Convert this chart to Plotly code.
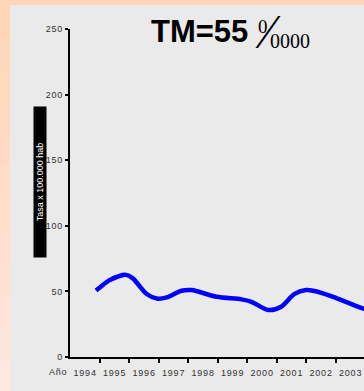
import plotly.graph_objects as go

# ---- data ----
years = [1994.88, 1995.01, 1995.35, 1995.89, 1996.13, 1996.60, 1996.97, 1997.28,
         1997.78, 1998.12, 1998.97, 1999.81, 2000.15, 2000.72, 2001.16, 2001.60,
         2002.00, 2002.24, 2002.92, 2003.42, 2003.93, 2004.30]
rates = [50.7, 53.0, 58.6, 62.6, 59.9, 48.0, 44.4, 45.4,
         50.5, 51.0, 45.9, 43.9, 42.1, 35.8, 38.3, 47.9,
         51.0, 50.5, 45.9, 41.4, 37.0, 34.5]
tick_labels = ["1994", "1995", "1996", "1997", "1998", "1999", "2000", "2001", "2002", "2003"]
y_ticks = [0, 50, 100, 150, 200, 250]
y_tick_text = ["0", "50", "100", "150", "200", "250"]

W, H = 364, 391
L, R, T, B = 70, 0, 29, 34
pw, ph = W - L - R, H - T - B
HS = "\u200a"


def px(x):
    return (x - L) / pw


def py(y):
    return (H - B - y) / ph


fig = go.Figure()
fig.add_trace(go.Scatter(x=years, y=rates, mode="lines",
                         line=dict(color="#0000FF", width=4.5, shape="spline", smoothing=0.8),
                         showlegend=False, hoverinfo="skip"))

shapes = [dict(type="rect", xref="paper", yref="paper", x0=px(10), x1=px(W), y0=py(H), y1=py(5),
               fillcolor="#EAEAEA", line=dict(width=0), layer="below")]
# left gradient strip
n = 12
c0 = (0xFF, 0xD5, 0xB6)
c1 = (0xFF, 0xE6, 0xDE)
for i in range(n):
    f = i / (n - 1)
    c = tuple(round(a + (b - a) * f) for a, b in zip(c0, c1))
    y0 = 5 + (H - 5) * i / n
    y1 = 5 + (H - 5) * (i + 1) / n
    shapes.append(dict(type="rect", xref="paper", yref="paper", x0=px(0), x1=px(10),
                       y0=py(y1), y1=py(y0), fillcolor="rgb(%d,%d,%d)" % c,
                       line=dict(width=0), layer="below"))

annotations = [
    dict(text="<b>TM=55</b>", x=px(199), y=py(31), xref="paper", yref="paper", showarrow=False,
         font=dict(family="Arial, Liberation Sans", size=31, color="black"), xanchor="center", yanchor="middle"),
    dict(text="0", x=px(263), y=py(26), xref="paper", yref="paper", showarrow=False,
         font=dict(family="Liberation Serif, Times New Roman", size=19, color="black"), xanchor="center", yanchor="middle"),
    dict(text="\u2044", x=px(268), y=py(31), xref="paper", yref="paper", showarrow=False,
         font=dict(family="Liberation Serif, Times New Roman", size=48, color="black"), xanchor="center", yanchor="middle"),
    dict(text="0000", x=px(290), y=py(41), xref="paper", yref="paper", showarrow=False,
         font=dict(family="Liberation Serif, Times New Roman", size=20, color="black"), xanchor="center", yanchor="middle"),
    dict(text="A" + HS + "ñ" + HS + "o", x=px(58), y=py(372), xref="paper", yref="paper", showarrow=False,
         font=dict(family="Arial, Liberation Sans", size=9, color="#333333"), xanchor="center", yanchor="middle"),
    dict(text="Tasa x 100.000 hab", x=px(40), y=py(182), xref="paper", yref="paper", showarrow=False,
         textangle=-90, bgcolor="black", width=148, height=10, borderpad=1,
         font=dict(family="Arial, Liberation Sans", size=9, color="white"), xanchor="center", yanchor="middle"),
]

fig.update_layout(
    width=W, height=H,
    margin=dict(l=L, r=R, t=T, b=B, pad=0),
    paper_bgcolor="#FFD6B8",
    plot_bgcolor="rgba(0,0,0,0)",
    shapes=shapes,
    annotations=annotations,
    showlegend=False,
    xaxis=dict(range=[1994, 1994 + pw / 29.5], showgrid=False, zeroline=False,
               showline=True, linecolor="black", linewidth=2,
               tickvals=[1994.5 + i for i in range(len(tick_labels))],
               ticktext=[HS.join(t) for t in tick_labels],
               ticks="", ticklabelstandoff=6,
               tickfont=dict(family="Arial, Liberation Sans", size=9, color="#333333"),
               minor=dict(tickvals=list(range(1995, 2005)), ticks="outside", ticklen=4,
                          tickwidth=2, tickcolor="black", showgrid=False)),
    yaxis=dict(range=[0, 250], showgrid=False, zeroline=False,
               showline=True, linecolor="black", linewidth=2,
               tickvals=y_ticks, ticktext=[HS.join(t) for t in y_tick_text],
               ticks="outside", ticklen=3, tickwidth=2, tickcolor="black", ticklabelstandoff=1,
               tickfont=dict(family="Arial, Liberation Sans", size=9, color="#333333")),
)

fig.write_html("out.html", config={"displayModeBar": False},
               post_script="document.body.style.margin='0';document.body.style.overflow='hidden';")
